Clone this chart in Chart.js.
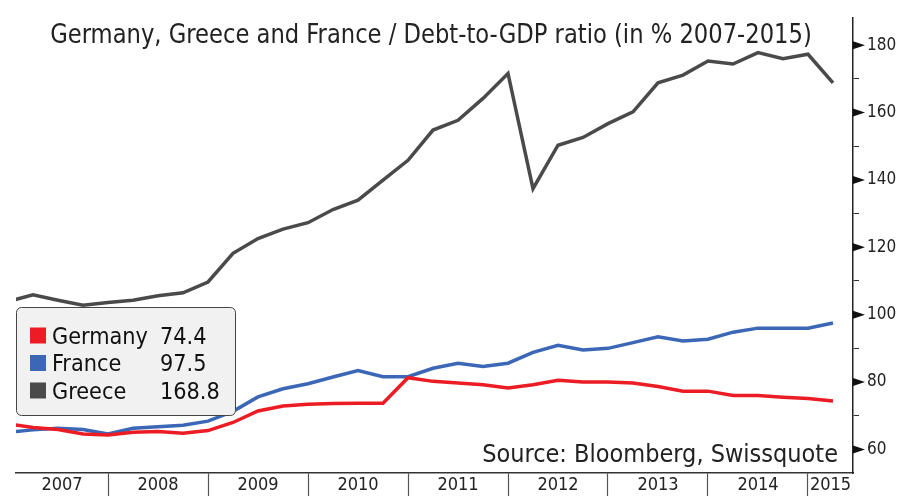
<!DOCTYPE html>
<html>
<head>
<meta charset="utf-8">
<script src="https://cdn.jsdelivr.net/npm/chart.js@4.4.1/dist/chart.umd.min.js"></script>
<style>
  html, body { margin: 0; padding: 0; background: #fff; }
</style>
</head>
<body>
<canvas id="debtChart" width="899" height="496"></canvas>
<script>
// trimestres (fin de trimestre)
const quarters = [
  '2006 Q4',
  '2007 Q1', '2007 Q2', '2007 Q3', '2007 Q4',
  '2008 Q1', '2008 Q2', '2008 Q3', '2008 Q4',
  '2009 Q1', '2009 Q2', '2009 Q3', '2009 Q4',
  '2010 Q1', '2010 Q2', '2010 Q3', '2010 Q4',
  '2011 Q1', '2011 Q2', '2011 Q3', '2011 Q4',
  '2012 Q1', '2012 Q2', '2012 Q3', '2012 Q4',
  '2013 Q1', '2013 Q2', '2013 Q3', '2013 Q4',
  '2014 Q1', '2014 Q2', '2014 Q3', '2014 Q4',
  '2015 Q1'
];

// deuda / PIB en %
const germany = [
  67.6,
  66.5, 65.9, 64.6, 64.3,
  65.1, 65.3, 64.8, 65.6,
  68.0, 71.4, 72.9, 73.4,
  73.6, 73.7, 73.7, 81.3,
  80.2, 79.7, 79.2, 78.2,
  79.2, 80.5, 80.0, 80.0,
  79.7, 78.7, 77.3, 77.3,
  76.0, 76.0, 75.5, 75.1,
  74.4
];
const france = [
  65.1,
  65.8, 66.3, 65.9, 64.6,
  66.3, 66.7, 67.2, 68.4,
  71.3, 75.6, 78.0, 79.5,
  81.5, 83.4, 81.6, 81.6,
  84.1, 85.6, 84.6, 85.6,
  88.8, 90.9, 89.5, 90.0,
  91.7, 93.4, 92.2, 92.7,
  94.8, 96.0, 96.0, 96.0,
  97.5
];
const greece = [
  103.9,
  105.9, 104.3, 102.8, 103.6,
  104.3, 105.6, 106.5, 109.7,
  118.2, 122.6, 125.4, 127.3,
  131.2, 134.0, 139.9, 145.8,
  154.8, 157.7, 164.2, 171.6,
  137.4, 150.3, 152.6, 156.7,
  160.2, 168.8, 171.1, 175.3,
  174.4, 177.8, 176.0, 177.3,
  168.8
];

const years = [2007, 2008, 2009, 2010, 2011, 2012, 2013, 2014, 2015];
const yTicks = [60, 70, 80, 90, 100, 110, 120, 130, 140, 150, 160, 170, 180];

const titleText = 'Germany, Greece and France / Debt-to-GDP ratio (in % 2007-2015)';
const sourceText = 'Source: Bloomberg, Swissquote';

const FAM = '"DejaVu Sans Condensed", "DejaVu Sans", sans-serif';
const xMin = 2007.08, xMax = 2015.45;

// fin de trimestre como año decimal: 2006 Q4 -> 2007.0
function quarterEnd(label) {
  const parts = label.split(' Q');
  return Number(parts[0]) + Number(parts[1]) / 4;
}

function toPoints(values) {
  return values.map((v, i) => ({ x: quarterEnd(quarters[i]), y: v }));
}

const series = [
  { label: 'Germany', data: germany, color: '#ec1c24' },
  { label: 'France', data: france, color: '#3b67b6' },
  { label: 'Greece', data: greece, color: '#4a4a4a' }
];

// centros de cada banda de año visible (para las etiquetas)
function yearCenter(y) {
  const a = Math.max(y, xMin), b = Math.min(y + 1, xMax);
  return (a + b) / 2;
}

function fitFont(ctx, text, width, base) {
  ctx.font = base + 'px ' + FAM;
  return base * width / ctx.measureText(text).width;
}

// texto un poco estirado en vertical, como en el original
function tallText(ctx, text, x, y, k) {
  ctx.save();
  ctx.translate(x, y);
  ctx.scale(1, k);
  ctx.fillText(text, 0, 0);
  ctx.restore();
}

// titulo, leyenda, fuente y triangulos del eje
const decorations = {
  id: 'decorations',
  afterDatasetsDraw(chart) {
    const ctx = chart.ctx;
    const yScale = chart.scales.y;
    ctx.save();

    // triangulos en las marcas principales
    ctx.fillStyle = '#111';
    yTicks.filter(v => v % 20 === 0).forEach(v => {
      const py = yScale.getPixelForValue(v);
      ctx.beginPath();
      ctx.moveTo(yScale.left, py - 4);
      ctx.lineTo(yScale.left + 12, py);
      ctx.lineTo(yScale.left, py + 4);
      ctx.closePath();
      ctx.fill();
    });

    // titulo
    let size = fitFont(ctx, titleText, 762, 22);
    ctx.font = size + 'px ' + FAM;
    ctx.fillStyle = '#222';
    ctx.textAlign = 'center';
    ctx.textBaseline = 'alphabetic';
    tallText(ctx, titleText, 431, 42.5, 1.06);

    // fuente
    size = fitFont(ctx, sourceText, 356, 22);
    ctx.font = size + 'px ' + FAM;
    ctx.fillStyle = '#fff';
    ctx.fillRect(478, 438, 366, 31);
    ctx.fillStyle = '#222';
    ctx.textAlign = 'right';
    ctx.fillText(sourceText, 838, 462);

    // leyenda
    const bx = 16, by = 307, bw = 219, bh = 108;
    ctx.beginPath();
    ctx.roundRect(bx + 0.5, by + 0.5, bw, bh, 5);
    ctx.fillStyle = '#f1f1f1';
    ctx.fill();
    ctx.strokeStyle = '#444';
    ctx.lineWidth = 1;
    ctx.stroke();

    size = fitFont(ctx, 'Germany', 96, 22);
    ctx.font = size + 'px ' + FAM;
    ctx.textAlign = 'left';
    series.forEach((s, i) => {
      const base = 343.5 + i * 27.5;
      ctx.fillStyle = s.color;
      ctx.fillRect(30, base - 16, 16, 16);
      ctx.fillStyle = '#111';
      ctx.fillText(s.label, 52, base);
      ctx.fillText(s.data[s.data.length - 1].toFixed(1), 160, base);
    });

    ctx.restore();
  }
};

const ctx = document.getElementById('debtChart');
const chart = new Chart(ctx, {
  type: 'line',
  data: {
    datasets: series.map(s => ({
      label: s.label,
      data: toPoints(s.data),
      borderColor: s.color,
      borderWidth: 3.5,
      pointRadius: 0,
      tension: 0,
      clip: 0
    }))
  },
  options: {
    responsive: false,
    animation: false,
    layout: { padding: { left: 16, top: 12, right: 0, bottom: 0 } },
    plugins: {
      legend: { display: false },
      tooltip: { enabled: false }
    },
    scales: {
      x: {
        type: 'linear',
        min: xMin,
        max: xMax,
        afterFit: (scale) => { scale.height = 23; },
        afterBuildTicks: (scale) => {
          const t = [];
          years.forEach(y => {
            if (y > xMin && y < xMax) t.push({ value: y });
            t.push({ value: yearCenter(y) });
          });
          scale.ticks = t;
        },
        border: { display: true, color: '#333', width: 1.5 },
        grid: {
          drawOnChartArea: false,
          tickLength: 23,
          tickWidth: 1.2,
          tickColor: (c) => Number.isInteger(c.tick && c.tick.value) ? '#555' : 'rgba(0,0,0,0)'
        },
        ticks: {
          autoSkip: false,
          maxRotation: 0,
          padding: -21,
          color: '#222',
          font: { family: FAM, size: 18 },
          callback: (v) => Number.isInteger(v) ? '' : String(Math.floor(v))
        }
      },
      y: {
        position: 'right',
        min: 53,
        max: 188,
        afterFit: (scale) => { scale.width = 46; },
        afterBuildTicks: (scale) => {
          scale.ticks = yTicks.map(v => ({ value: v }));
        },
        border: { display: true, color: '#222', width: 1.5 },
        grid: {
          drawOnChartArea: false,
          tickLength: 6,
          tickColor: '#333'
        },
        ticks: {
          padding: 8,
          color: '#222',
          font: { family: FAM, size: 17 },
          callback: (v) => v % 20 === 0 ? String(v) : ''
        }
      }
    }
  },
  plugins: [decorations]
});
</script>
</body>
</html>
